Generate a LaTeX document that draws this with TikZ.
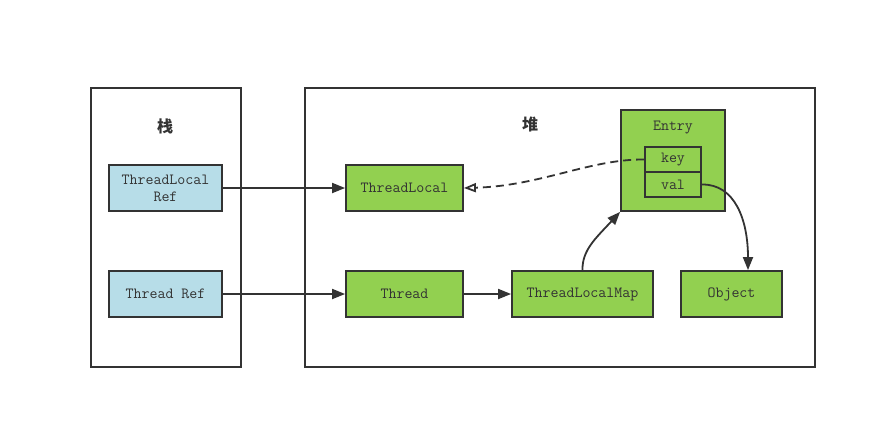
\documentclass[tikz,border=0pt]{standalone}
\usepackage{fontspec}
\newfontfamily\cjk{Noto Sans CJK SC}
\usetikzlibrary{arrows.meta}
\definecolor{boxgreen}{HTML}{92D050}
\definecolor{boxblue}{HTML}{B7DDE8}
\definecolor{ink}{HTML}{333333}
\begin{document}
\begin{tikzpicture}[x=1pt,y=-1pt,
  every node/.style={font=\ttfamily\fontsize{15.5}{17}\selectfont, text=ink},
  area/.style={draw=ink, line width=1.6pt},
  refbox/.style={draw=ink, line width=1.8pt, fill=boxblue, minimum width=113pt, minimum height=46pt, align=center, inner sep=0pt},
  objbox/.style={draw=ink, line width=1.8pt, fill=boxgreen, minimum height=46pt, inner sep=0pt},
  fieldbox/.style={draw=ink, line width=1.8pt, fill=boxgreen, minimum width=56pt, minimum height=25pt, inner sep=0pt},
  link/.style={draw=ink, line width=1.8pt, -{Triangle[length=13pt,width=10pt]}},
  weaklink/.style={draw=ink, line width=1.8pt, dash pattern=on 8pt off 5pt, -{Triangle[open,length=12pt,width=9pt]}},
  title/.style={font=\cjk\bfseries\fontsize{16}{19}\selectfont}
]
\useasboundingbox (0,0) rectangle (876,429);

% memory areas
\draw[area] (91,88) rectangle (241,367);
\draw[area] (305,88) rectangle (815,367);
\node[title] (stack) at (165,126) {栈};
\node[title] (heap) at (530,124) {堆};

% stack references
\node[refbox] (tlref) at (165.5,188) {ThreadLocal\\Ref};
\node[refbox] (tref) at (165.5,294) {Thread Ref};

% heap objects
\node[objbox, minimum width=117pt] (tl) at (404.5,188) {ThreadLocal};
\node[objbox, minimum width=117pt] (thread) at (404.5,294) {Thread};
\node[objbox, minimum width=141pt] (tlmap) at (582.5,294) {ThreadLocalMap};
\node[objbox, minimum width=101pt] (obj) at (731.5,294) {Object};

% map entry with its two fields
\node[draw=ink, line width=1.8pt, fill=boxgreen, minimum width=104pt, minimum height=101pt, inner sep=0pt] (entry) at (673,160.5) {};
\node (entrylabel) at (673,128) {Entry};
\node[fieldbox] (key) at (673,159.5) {key};
\node[fieldbox] (val) at (673,184.5) {val};

% references
\draw[link] (tlref.east) -- (tl.west);
\draw[link] (tref.east) -- (thread.west);
\draw[link] (thread.east) -- (tlmap.west);
\draw[weaklink] (key.west) .. controls (590,159) and (540,186) .. (tl.east);
\draw[link] (tlmap.north) .. controls (582,250) and (596,238) .. (entry.south west);
\draw[link] (val.east) .. controls (735,184) and (748,220) .. (obj.north -| 748,0);
\end{tikzpicture}
\end{document}
